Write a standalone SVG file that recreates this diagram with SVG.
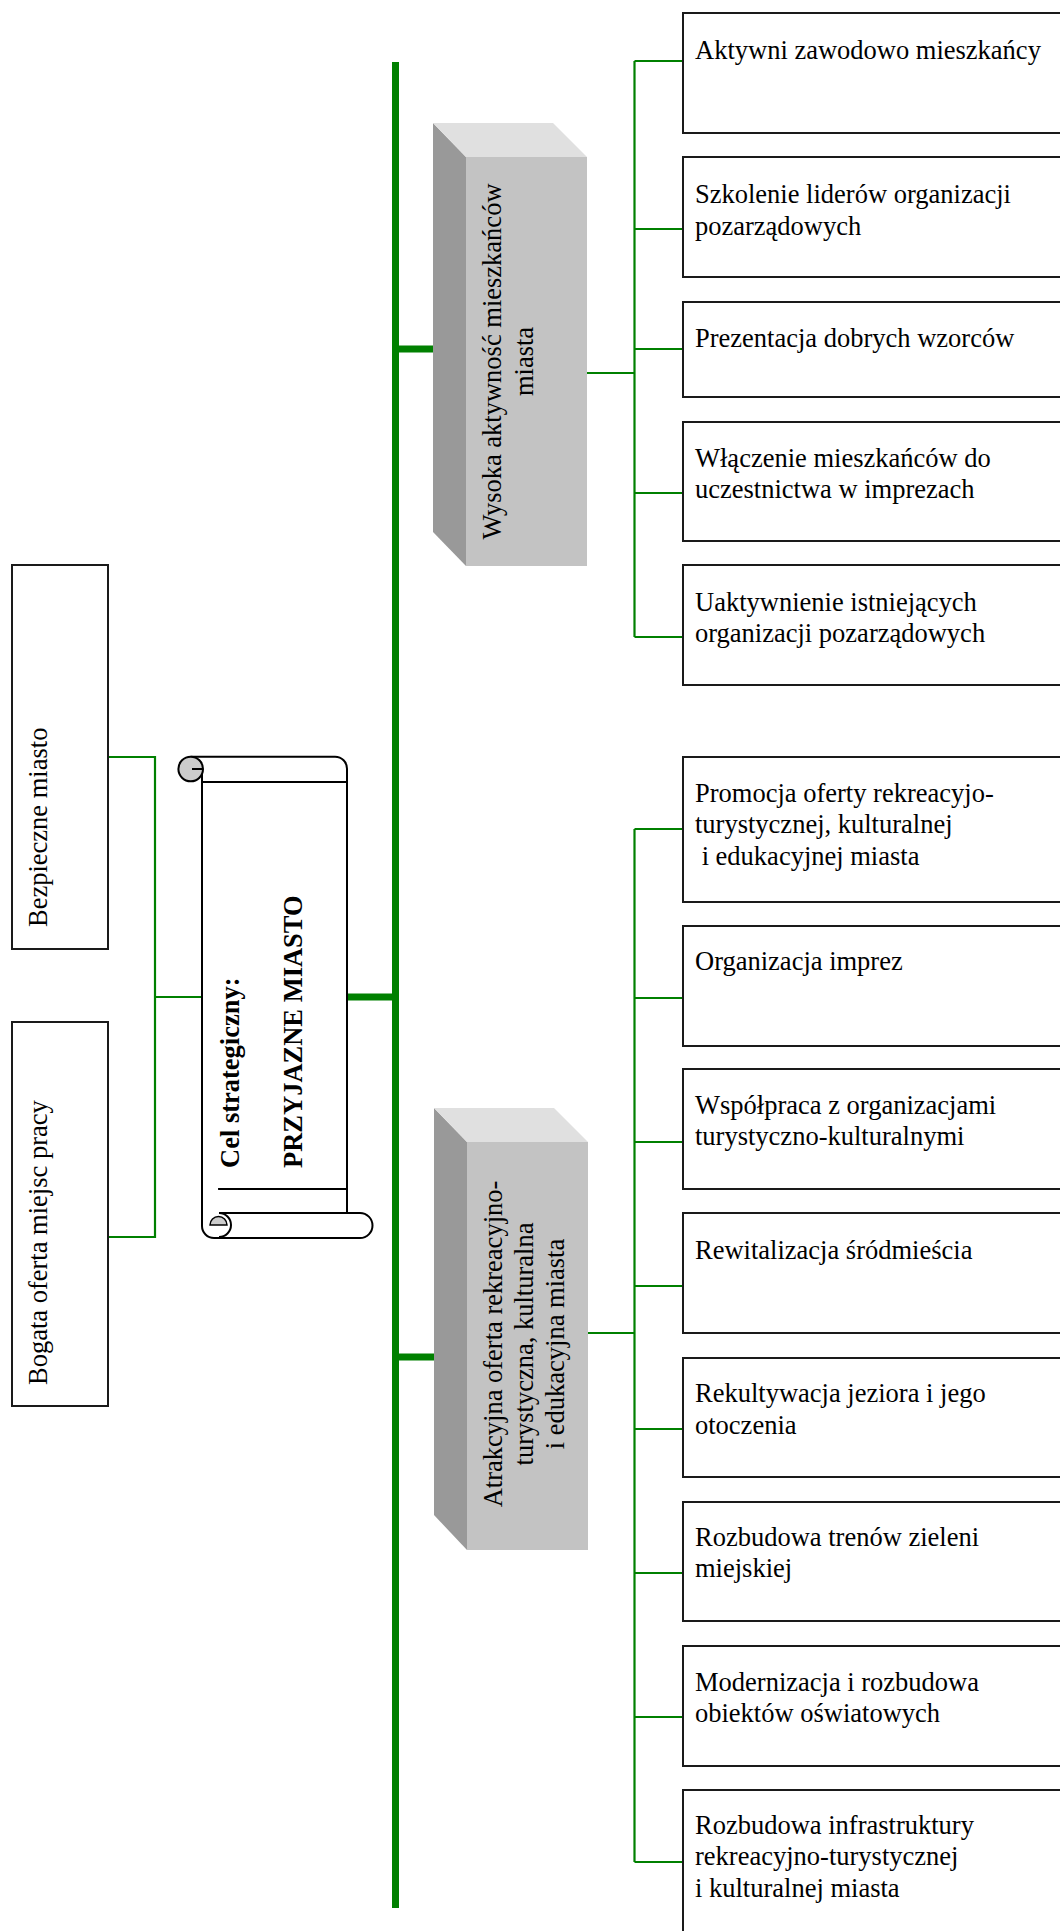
<svg xmlns="http://www.w3.org/2000/svg" width="1060" height="1931" viewBox="0 0 1060 1931">
<style>
.t{font-family:"Liberation Serif","Times New Roman",serif;font-size:26.5px;fill:#000}
.b{font-weight:bold}
.box{fill:#fff;stroke:#1a1a1a;stroke-width:2}
.thin{fill:none;stroke:#008000;stroke-width:2.2}
.thick{fill:none;stroke:#008000;stroke-width:7}
.sc{fill:#fff;stroke:#000;stroke-width:2}
.side{fill:#999}
.top{fill:#e0e0e0}
.front{fill:#c3c3c3}
</style>
<rect width="1060" height="1931" fill="#fff"/>
<g id="connectors">
<path class="thick" d="M395.5,62 V1908"/>
<path class="thick" d="M395,349 H433 M348,997 H395 M395,1357 H434"/>
<path class="thin" d="M108,757 H155 V1237 H108 M155,997 H203"/>
<path class="thin" d="M587,373 H634.5 M634.5,61 V637 M634.5,61 H683 M634.5,229 H683 M634.5,349 H683 M634.5,493 H683 M634.5,637 H683"/>
<path class="thin" d="M588,1333 H634.5 M634.5,829 V1862 M634.5,829 H683 M634.5,998 H683 M634.5,1142 H683 M634.5,1286 H683 M634.5,1429 H683 M634.5,1573 H683 M634.5,1717 H683 M634.5,1862 H683"/>
</g>
<g id="goal">
<path class="sc" d="M190.7,756.7 H335 A12,12 0 0 1 347,769 V1213"/>
<path class="sc" d="M202,782 H347 M202,1189 H347"/>
<path class="sc" d="M202,769 V1226 A12,12 0 0 0 214,1238 H360 A12.5,12.5 0 0 0 360,1213 H219"/>
<circle cx="190.7" cy="769" r="12.3" fill="#ccc" stroke="#000" stroke-width="2"/>
<path class="sc" d="M192,769 H202" fill="none"/>
<path d="M219,1213 A12,12 0 0 1 219,1237" fill="none" stroke="#000" stroke-width="2"/>
<path d="M210,1225 A8.5,8.5 0 0 1 227,1225 Z" fill="#ccc" stroke="#000" stroke-width="1.5"/>
<text class="t b" transform="translate(239,1168) rotate(-90)">Cel strategiczny:</text>
<text class="t b" transform="translate(302,1168) rotate(-90)">PRZYJAZNE MIASTO</text>
</g>
<g id="left1">
<rect class="box" x="12" y="565" width="96" height="384"/>
<text class="t" transform="translate(47,927) rotate(-90)">Bezpieczne miasto</text>
</g>
<g id="left2">
<rect class="box" x="12" y="1022" width="96" height="384"/>
<text class="t" transform="translate(47,1385) rotate(-90)">Bogata oferta miejsc pracy</text>
</g>
<g id="area1">
<polygon class="side" points="433,123 466,157 466,566 433,532"/>
<polygon class="top" points="433,123 553,123 587,157 466,157"/>
<rect class="front" x="466" y="157" width="121" height="409"/>
<text class="t" text-anchor="middle" transform="translate(501,361.5) rotate(-90)">Wysoka aktywność mieszkańców</text>
<text class="t" text-anchor="middle" transform="translate(533,361.5) rotate(-90)">miasta</text>
</g>
<g id="area2">
<polygon class="side" points="434,1108 467,1142 467,1550 434,1515"/>
<polygon class="top" points="434,1108 554,1108 588,1142 467,1142"/>
<rect class="front" x="467" y="1142" width="121" height="408"/>
<text class="t" text-anchor="middle" transform="translate(502,1344) rotate(-90)">Atrakcyjna oferta rekreacyjno-</text>
<text class="t" text-anchor="middle" transform="translate(533,1344) rotate(-90)">turystyczna, kulturalna</text>
<text class="t" text-anchor="middle" transform="translate(564,1344) rotate(-90)">i edukacyjna miasta</text>
</g>
<g id="a1"><rect class="box" x="683" y="13" width="400" height="120"/><text class="t" x="695" y="59">Aktywni zawodowo mieszkańcy</text></g>
<g id="a2"><rect class="box" x="683" y="157" width="400" height="120"/><text class="t" x="695" y="203">Szkolenie liderów organizacji</text><text class="t" x="695" y="235">pozarządowych</text></g>
<g id="a3"><rect class="box" x="683" y="302" width="400" height="95"/><text class="t" x="695" y="347">Prezentacja dobrych wzorców</text></g>
<g id="a4"><rect class="box" x="683" y="422" width="400" height="119"/><text class="t" x="695" y="467">Włączenie mieszkańców do</text><text class="t" x="695" y="498">uczestnictwa w imprezach</text></g>
<g id="a5"><rect class="box" x="683" y="565" width="400" height="120"/><text class="t" x="695" y="611">Uaktywnienie istniejących</text><text class="t" x="695" y="642">organizacji pozarządowych</text></g>
<g id="b1"><rect class="box" x="683" y="757" width="400" height="145"/><text class="t" x="695" y="802">Promocja oferty rekreacyjo-</text><text class="t" x="695" y="833">turystycznej, kulturalnej</text><text class="t" x="695" y="865" xml:space="preserve"> i edukacyjnej miasta</text></g>
<g id="b2"><rect class="box" x="683" y="926" width="400" height="120"/><text class="t" x="695" y="970">Organizacja imprez</text></g>
<g id="b3"><rect class="box" x="683" y="1069" width="400" height="120"/><text class="t" x="695" y="1114">Współpraca z organizacjami</text><text class="t" x="695" y="1145">turystyczno-kulturalnymi</text></g>
<g id="b4"><rect class="box" x="683" y="1213" width="400" height="120"/><text class="t" x="695" y="1259">Rewitalizacja śródmieścia</text></g>
<g id="b5"><rect class="box" x="683" y="1358" width="400" height="119"/><text class="t" x="695" y="1402">Rekultywacja jeziora i jego</text><text class="t" x="695" y="1434">otoczenia</text></g>
<g id="b6"><rect class="box" x="683" y="1502" width="400" height="119"/><text class="t" x="695" y="1546">Rozbudowa trenów zieleni</text><text class="t" x="695" y="1577">miejskiej</text></g>
<g id="b7"><rect class="box" x="683" y="1646" width="400" height="120"/><text class="t" x="695" y="1691">Modernizacja i rozbudowa</text><text class="t" x="695" y="1722">obiektów oświatowych</text></g>
<g id="b8"><rect class="box" x="683" y="1790" width="400" height="160"/><text class="t" x="695" y="1834">Rozbudowa infrastruktury</text><text class="t" x="695" y="1865">rekreacyjno-turystycznej</text><text class="t" x="695" y="1897">i kulturalnej miasta</text></g>
</svg>
